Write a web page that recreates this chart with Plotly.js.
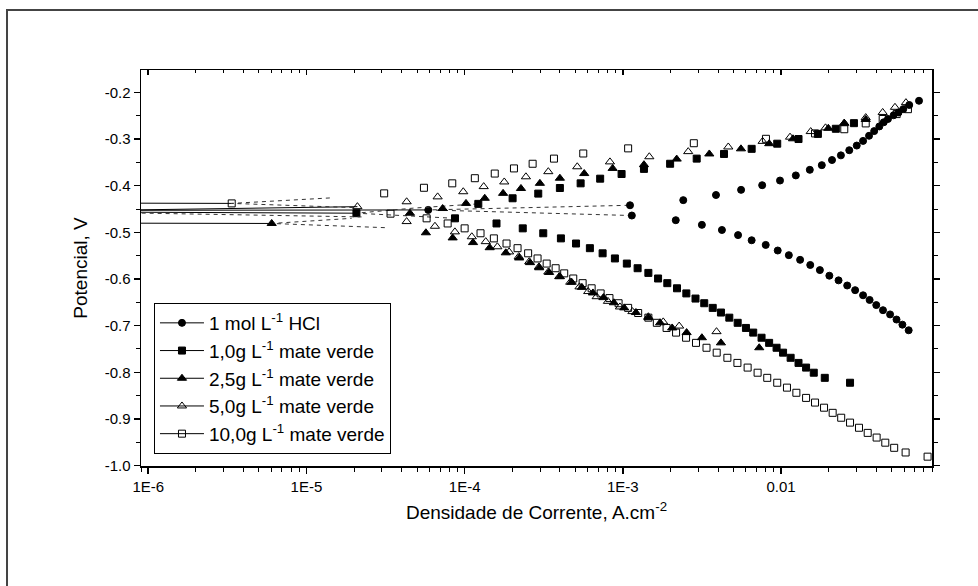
<!DOCTYPE html>
<html><head><meta charset="utf-8">
<script src="https://cdn.plot.ly/plotly-3.0.1.min.js"></script>
<style>html,body{margin:0;padding:0;background:#fff}#chart{width:978px;height:586px}</style>
</head><body><div id="chart"></div>
<script>
// Series names
const seriesNames = ['1 mol L<sup>-1</sup> HCl','1,0g L<sup>-1</sup> mate verde','2,5g L<sup>-1</sup> mate verde','5,0g L<sup>-1</sup> mate verde','10,0g L<sup>-1</sup> mate verde'];
const xTickVals = [1e-6,1e-5,1e-4,1e-3,1e-2];
const xTickText = ['1E-6','1E-5','1E-4','1E-3','0.01'];
const yTickVals = [-1.0,-0.9,-0.8,-0.7,-0.6,-0.5,-0.4,-0.3,-0.2];
const yTickText = ['-1.0','-0.9','-0.8','-0.7','-0.6','-0.5','-0.4','-0.3','-0.2'];

// 1 mol/L HCl (filled circles)
const hclCathX = [1.14e-3,2.16e-3,3.16e-3,4.23e-3,5.35e-3,6.52e-3,8.0e-3,9.53e-3,1.12e-2,1.32e-2,1.53e-2,1.76e-2,2.02e-2,2.31e-2,2.62e-2,2.94e-2,3.30e-2,3.63e-2,4.0e-2,4.41e-2,4.89e-2,5.37e-2,5.85e-2,6.41e-2];
const hclCathY = [-0.464,-0.474,-0.484,-0.495,-0.506,-0.517,-0.527,-0.539,-0.549,-0.559,-0.570,-0.581,-0.593,-0.603,-0.614,-0.624,-0.635,-0.645,-0.656,-0.667,-0.676,-0.687,-0.698,-0.710];
const hclAnX = [1.11e-3,2.41e-3,3.88e-3,5.59e-3,7.60e-3,9.85e-3,1.24e-2,1.52e-2,1.81e-2,2.10e-2,2.39e-2,2.70e-2,3.01e-2,3.30e-2,3.60e-2,3.88e-2,4.18e-2,4.46e-2,4.74e-2,5.15e-2,5.53e-2,5.92e-2,6.46e-2,7.45e-2];
const hclAnY = [-0.442,-0.431,-0.420,-0.409,-0.399,-0.389,-0.378,-0.366,-0.356,-0.345,-0.335,-0.324,-0.314,-0.304,-0.293,-0.283,-0.273,-0.264,-0.257,-0.249,-0.243,-0.236,-0.227,-0.218];
// near-Ecorr points: solid part (to the very low currents) and dashed part (to the branch ends)
const hclLowX = [5.89e-5,2.0e-7];
const hclLowY = [-0.452,-0.453];
const hclDashX = [1.14e-3,5.89e-5,1.11e-3];
const hclDashY = [-0.464,-0.452,-0.442];

// 1,0 g/L (filled squares)
const m1CathX = [8.69e-5,1.59e-4,2.33e-4,3.14e-4,4.06e-4,5.06e-4,6.19e-4,7.45e-4,8.91e-4,1.06e-3,1.24e-3,1.45e-3,1.67e-3,1.91e-3,2.20e-3,2.52e-3,2.88e-3,3.27e-3,3.70e-3,4.17e-3,4.71e-3,5.32e-3,6.0e-3,6.67e-3,7.53e-3,8.41e-3,9.37e-3,1.03e-2,1.15e-2,1.29e-2,1.44e-2,1.61e-2,1.89e-2,2.73e-2];
const m1CathY = [-0.470,-0.481,-0.4915,-0.502,-0.513,-0.524,-0.534,-0.545,-0.556,-0.567,-0.577,-0.587,-0.599,-0.609,-0.620,-0.631,-0.642,-0.652,-0.662,-0.672,-0.683,-0.694,-0.705,-0.715,-0.726,-0.737,-0.7475,-0.758,-0.769,-0.780,-0.790,-0.801,-0.812,-0.8225];
const m1AnX = [1.22e-4,2.01e-4,2.92e-4,4.0e-4,5.41e-4,7.19e-4,9.82e-4,1.36e-3,1.99e-3,2.93e-3,4.36e-3,6.52e-3,9.46e-3,1.29e-2,1.71e-2,2.22e-2,2.89e-2];
const m1AnY = [-0.439,-0.427,-0.417,-0.405,-0.395,-0.385,-0.375,-0.364,-0.353,-0.342,-0.332,-0.321,-0.310,-0.300,-0.289,-0.278,-0.266];
const m1LowX = [2.07e-5,2.0e-7];
const m1LowY = [-0.459,-0.456];
const m1DashX = [8.69e-5,2.07e-5,4.79e-5,1.22e-4];
const m1DashY = [-0.470,-0.459,-0.448,-0.439];

// 2,5 g/L (filled triangles)
const m25CathX = [5.69e-5,8.40e-5,1.13e-4,1.44e-4,1.82e-4,2.21e-4,2.59e-4,2.96e-4,3.42e-4,4.00e-4,4.75e-4,5.51e-4,6.47e-4,7.54e-4,8.78e-4,1.02e-3,1.21e-3,1.45e-3,1.72e-3,2.05e-3,2.53e-3,3.16e-3,4.17e-3,7.28e-3];
const m25CathY = [-0.501,-0.512,-0.522,-0.533,-0.544,-0.555,-0.565,-0.576,-0.586,-0.595,-0.607,-0.618,-0.630,-0.640,-0.651,-0.662,-0.672,-0.683,-0.694,-0.705,-0.715,-0.726,-0.737,-0.7475];
const m25AnX = [7.26e-5,1.02e-4,1.34e-4,1.75e-4,2.27e-4,2.99e-4,4.00e-4,5.70e-4,8.62e-4,1.36e-3,2.19e-3,3.52e-3,5.58e-3,8.42e-3,1.19e-2,1.99e-2,2.51e-2,3.43e-2];
const m25AnY = [-0.449,-0.438,-0.427,-0.4165,-0.406,-0.395,-0.384,-0.374,-0.363,-0.355,-0.343,-0.332,-0.321,-0.310,-0.2995,-0.277,-0.266,-0.258];
const m25LowX = [6.03e-6,2.0e-7];
const m25LowY = [-0.481,-0.480];
const m25DashX = [3.13e-5,6.03e-6,1.93e-5];
const m25DashY = [-0.490,-0.481,-0.470];
const m25NearX = [4.51e-5];
const m25NearY = [-0.459];

// 5,0 g/L (open triangles)
const m5CathX = [6.49e-5,8.68e-5,1.11e-4,1.36e-4,1.61e-4,1.91e-4,2.20e-4,2.56e-4,2.95e-4,3.38e-4,3.96e-4,4.65e-4,5.32e-4,6.04e-4,6.83e-4,8.05e-4,9.59e-4,1.15e-3,1.45e-3,1.80e-3,2.27e-3,3.91e-3];
const m5CathY = [-0.487,-0.499,-0.5095,-0.520,-0.531,-0.542,-0.552,-0.563,-0.574,-0.585,-0.595,-0.607,-0.617,-0.627,-0.638,-0.648,-0.660,-0.670,-0.681,-0.692,-0.701,-0.713];
const m5AnX = [6.75e-5,9.80e-5,1.32e-4,1.78e-4,2.44e-4,3.38e-4,5.15e-4,8.29e-4,1.47e-3,2.59e-3,4.64e-3,7.65e-3,1.14e-2,1.54e-2,1.91e-2,2.51e-2,3.43e-2,4.39e-2,5.25e-2,6.16e-2];
const m5AnY = [-0.424,-0.413,-0.402,-0.392,-0.381,-0.370,-0.3595,-0.349,-0.338,-0.327,-0.317,-0.305,-0.296,-0.284,-0.276,-0.266,-0.254,-0.243,-0.232,-0.222];
const m5LowX = [2.10e-5,2.0e-7];
const m5LowY = [-0.445,-0.455];
const m5DashX = [2.0e-7,2.23e-5];
const m5DashY = [-0.455,-0.467];
const m5NearX = [4.30e-5,4.30e-5];
const m5NearY = [-0.4345,-0.477];

// 10,0 g/L (open squares)
const m10CathX = [5.75e-5,7.81e-5,1.00e-4,1.26e-4,1.53e-4,1.84e-4,2.16e-4,2.52e-4,2.89e-4,3.30e-4,3.76e-4,4.26e-4,4.86e-4,5.57e-4,6.35e-4,7.24e-4,8.23e-4,9.40e-4,1.08e-3,1.25e-3,1.45e-3,1.64e-3,1.89e-3,2.17e-3,2.51e-3,2.90e-3,3.38e-3,3.92e-3,4.58e-3,5.30e-3,6.15e-3,7.11e-3,8.18e-3,9.46e-3,1.09e-2,1.25e-2,1.44e-2,1.64e-2,1.87e-2,2.12e-2,2.40e-2,2.73e-2,3.11e-2,3.53e-2,4.02e-2,4.56e-2,5.19e-2,6.13e-2,8.44e-2];
const m10CathY = [-0.470,-0.481,-0.4915,-0.502,-0.513,-0.524,-0.534,-0.545,-0.556,-0.567,-0.577,-0.588,-0.599,-0.609,-0.620,-0.631,-0.641,-0.652,-0.662,-0.673,-0.683,-0.694,-0.705,-0.715,-0.726,-0.737,-0.7475,-0.758,-0.769,-0.780,-0.790,-0.801,-0.812,-0.8225,-0.833,-0.844,-0.855,-0.865,-0.876,-0.887,-0.8975,-0.908,-0.919,-0.930,-0.940,-0.951,-0.962,-0.972,-0.981];
const m10AnX = [5.53e-5,8.35e-5,1.16e-4,1.55e-4,2.05e-4,2.69e-4,3.67e-4,5.62e-4,1.08e-3,2.81e-3,8.03e-3,1.64e-2,2.51e-2,3.43e-2,4.39e-2,5.38e-2,6.34e-2];
const m10AnY = [-0.4045,-0.395,-0.384,-0.374,-0.363,-0.353,-0.342,-0.331,-0.320,-0.309,-0.2995,-0.288,-0.279,-0.2665,-0.257,-0.2465,-0.236];
const m10LowX = [3.37e-6,2.0e-7];
const m10LowY = [-0.438,-0.437];
const m10DashX = [1.98e-5,3.37e-6,1.46e-5];
const m10DashY = [-0.447,-0.438,-0.426];
const m10NearX = [3.10e-5,3.40e-5];
const m10NearY = [-0.4165,-0.460];

const symbols = ['circle','square','triangle-up','triangle-up-open','square-open'];
const sizes = [7,7,8,8,7];
const groups = [
  {cx:hclCathX,cy:hclCathY,ax:hclAnX,ay:hclAnY,lx:hclLowX,ly:hclLowY,dx:hclDashX,dy:hclDashY,nx:[],ny:[]},
  {cx:m1CathX,cy:m1CathY,ax:m1AnX,ay:m1AnY,lx:m1LowX,ly:m1LowY,dx:m1DashX,dy:m1DashY,nx:[],ny:[]},
  {cx:m25CathX,cy:m25CathY,ax:m25AnX,ay:m25AnY,lx:m25LowX,ly:m25LowY,dx:m25DashX,dy:m25DashY,nx:m25NearX,ny:m25NearY},
  {cx:m5CathX,cy:m5CathY,ax:m5AnX,ay:m5AnY,lx:m5LowX,ly:m5LowY,dx:m5DashX,dy:m5DashY,nx:m5NearX,ny:m5NearY},
  {cx:m10CathX,cy:m10CathY,ax:m10AnX,ay:m10AnY,lx:m10LowX,ly:m10LowY,dx:m10DashX,dy:m10DashY,nx:m10NearX,ny:m10NearY}
];

const font = 'Liberation Sans, Arial, sans-serif';
const traces = [];
groups.forEach((g,i)=>{
  const mk = {symbol:symbols[i], size:sizes[i], color:'#000', line:{color:'#000', width:1}};
  traces.push({type:'scatter', mode:'lines', showlegend:false, legendgroup:'g'+i,
    x:g.dx, y:g.dy, line:{color:'#333', width:1, dash:'4px,4px'}, hoverinfo:'skip'});
  traces.push({type:'scatter', mode:'lines+markers', name:seriesNames[i], legendgroup:'g'+i,
    x:g.lx, y:g.ly, line:{color:'#000', width:1}, marker:mk, cliponaxis:true});
  traces.push({type:'scatter', mode:'markers', showlegend:false, legendgroup:'g'+i,
    xaxis: i===0 ? 'x2' : 'x',
    x:g.cx.concat(g.nx, g.ax), y:g.cy.concat(g.ny, g.ay), marker:mk, cliponaxis:true});
});

const xRange = [Math.log10(9e-7), Math.log10(0.09)];
const layout = {
  width:978, height:586,
  margin:{l:141, r:46, t:70, b:120},
  paper_bgcolor:'#fff', plot_bgcolor:'#fff',
  font:{family:font, color:'#000'},
  showlegend:true,
  legend:{x:0.0164, y:0.4116, xanchor:'left', yanchor:'top', bordercolor:'#000', borderwidth:1,
    bgcolor:'#fff', font:{family:font, size:19, color:'#000'}, tracegroupgap:0, itemwidth:44},
  xaxis:{type:'log', range:xRange, tickmode:'array', tickvals:xTickVals, ticktext:xTickText,
    ticks:'outside', ticklen:6, tickwidth:1.5, tickcolor:'#000', showline:true, linewidth:1.5, linecolor:'#000', mirror:false,
    showgrid:false, zeroline:false,
    minor:{ticks:'outside', ticklen:4, tickwidth:1, tickcolor:'#000', dtick:'D1', showgrid:false},
    tickfont:{family:font, size:15, color:'#000'},
    title:{text:'Densidade de Corrente, A.cm<sup>-2</sup>', font:{family:font, size:19, color:'#000'}, standoff:12}},
  xaxis2:{type:'log', overlaying:'x', side:'top', anchor:'y', range:xRange, tickmode:'array', tickvals:xTickVals,
    showticklabels:false, ticks:'inside', ticklen:5, tickwidth:1.5, tickcolor:'#000', showline:true, linewidth:1.5, linecolor:'#000',
    showgrid:false, zeroline:false,
    minor:{ticks:'inside', ticklen:3, tickwidth:1, tickcolor:'#000', dtick:'D1', showgrid:false}},
  yaxis:{range:[-1.001,-0.152], tickmode:'array', tickvals:yTickVals, ticktext:yTickText,
    ticks:'outside', ticklen:6, tickwidth:1.5, tickcolor:'#000', showline:true, linewidth:1.5, linecolor:'#000', mirror:'ticks',
    showgrid:false, zeroline:false,
    minor:{ticks:'outside', ticklen:4, tickwidth:1, tickcolor:'#000', dtick:0.05, tick0:0, showgrid:false},
    tickfont:{family:font, size:15, color:'#000'},
    title:{text:'Potencial, V', font:{family:font, size:19, color:'#000'}, standoff:12}},
  shapes:[{type:'rect', xref:'paper', yref:'paper', x0:-0.1694, x1:1.07, y0:-0.35, y1:1.1515,
    line:{color:'#444', width:2}, fillcolor:'rgba(0,0,0,0)', layer:'below'}]
};
Plotly.newPlot('chart', traces, layout, {displayModeBar:false, staticPlot:true});
</script></body></html>
